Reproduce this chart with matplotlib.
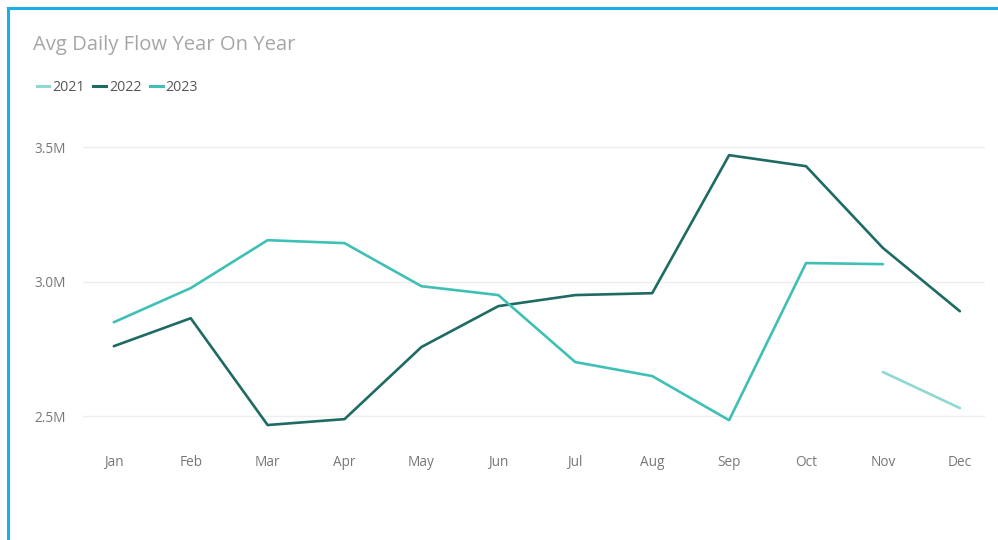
import numpy as np
import matplotlib
matplotlib.use('Agg')
import matplotlib.pyplot as plt
from matplotlib.lines import Line2D

months = ['Jan', 'Feb', 'Mar', 'Apr', 'May', 'Jun', 'Jul', 'Aug', 'Sep', 'Oct', 'Nov', 'Dec']

# values in millions (nan = no data)
flow_2021 = [np.nan] * 10 + [2.664, 2.530]
flow_2022 = [2.760, 2.864, 2.467, 2.489, 2.757, 2.909, 2.950, 2.957, 3.470, 3.429, 3.125, 2.890]
flow_2023 = [2.849, 2.976, 3.154, 3.143, 2.983, 2.950, 2.701, 2.649, 2.485, 3.069, 3.065, np.nan]

years = ['2021', '2022', '2023']
colors = ['#8fd9d2', '#1e6b63', '#3fc0b4']

plt.rcParams['font.family'] = ['Open Sans', 'DejaVu Sans']

fig = plt.figure(figsize=(9.98, 5.4), dpi=100)
ax = fig.add_axes([0.0832, 0.185, 0.904, 0.574])

x = np.arange(len(months))
for vals, c in zip([flow_2021, flow_2022, flow_2023], colors):
    ax.plot(x, vals, color=c, lw=1.9, solid_capstyle='round', solid_joinstyle='round')

ax.set_xlim(-0.40, 11.33)
ax.set_ylim(2.411, 3.563)
ax.set_yticks([2.5, 3.0, 3.5])
ax.set_yticklabels(['2.5M', '3.0M', '3.5M'])
ax.set_xticks(x)
ax.set_xticklabels(months)
ax.tick_params(length=0, labelsize=9.8, labelcolor='#777777')
ax.tick_params(axis='x', pad=11)
ax.tick_params(axis='y', pad=12)
ax.grid(axis='y', color='#eeeeee', lw=1)
ax.set_axisbelow(True)
for s in ax.spines.values():
    s.set_visible(False)

fig.text(0.033, 0.917, 'Avg Daily Flow Year On Year', fontsize=14.6, color='#a6a6a6', va='center')

handles = [Line2D([], [], color=c, lw=2.2) for c in colors]
fig.legend(handles, years, loc='center left', bbox_to_anchor=(0.024, 0.838), ncol=3, frameon=False,
           fontsize=10.2, handlelength=0.9, handletextpad=0.2, columnspacing=0.6, labelcolor='#555555')

# blue frame on the top and left edges
fig.add_artist(Line2D([0.0085, 0.0085], [0, 0.985], color='#1aaee6', lw=2.2, transform=fig.transFigure))
fig.add_artist(Line2D([0.0085, 1.0], [0.985, 0.985], color='#1aaee6', lw=2.2, transform=fig.transFigure))

fig.savefig('out.png', dpi=100)
